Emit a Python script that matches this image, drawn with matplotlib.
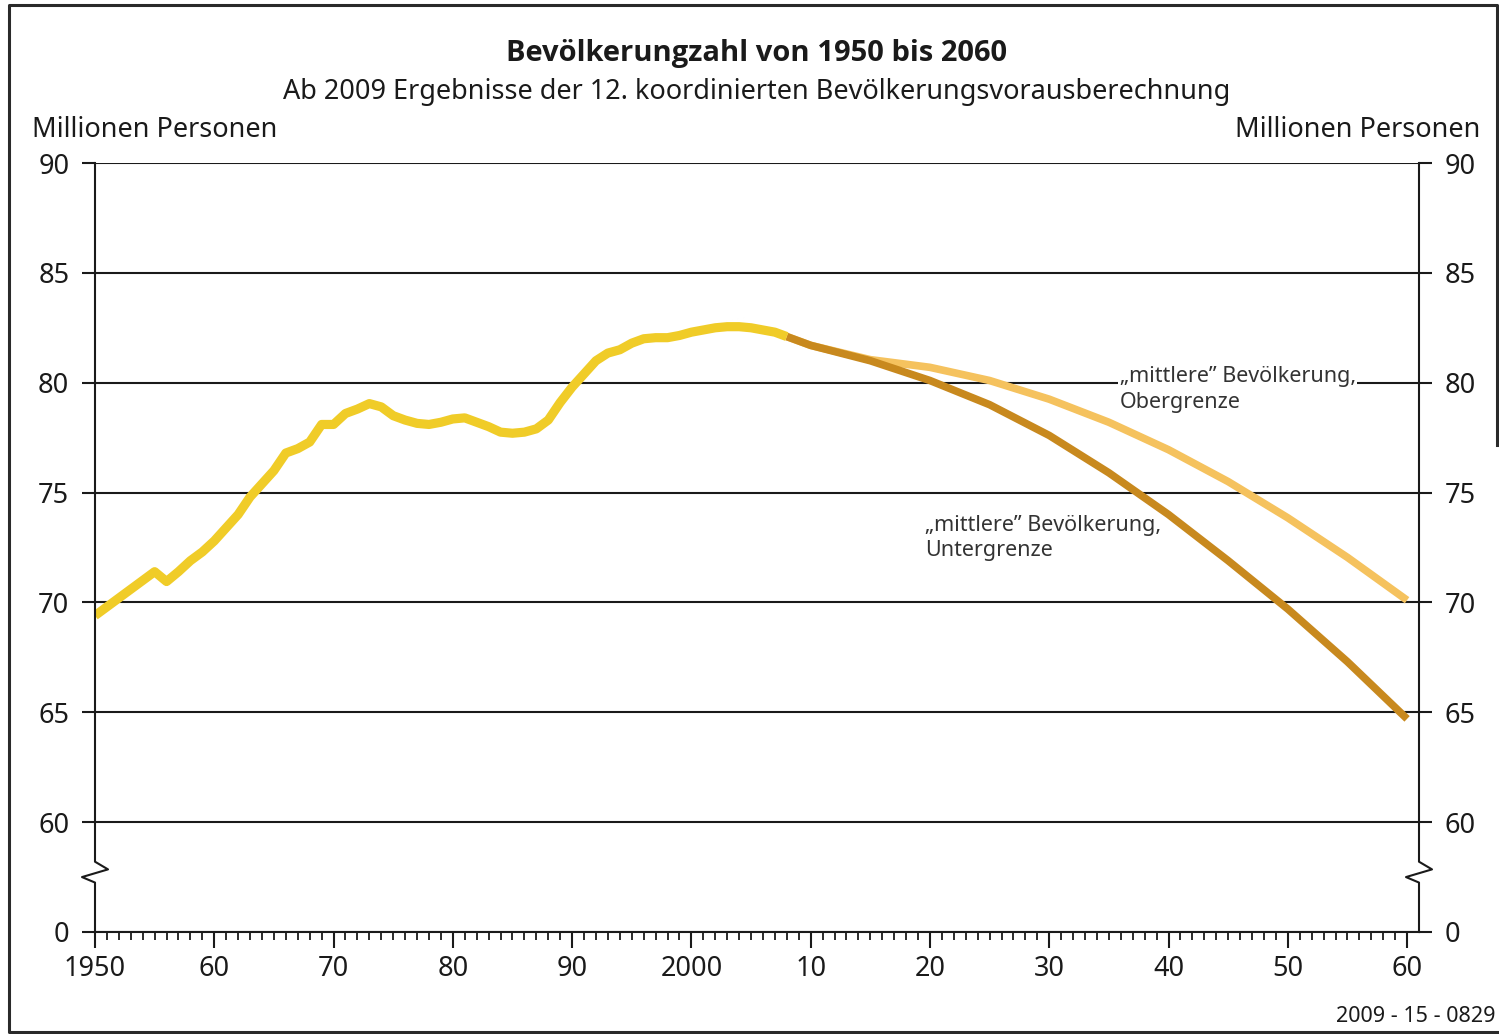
import matplotlib
matplotlib.use("Agg")
import matplotlib.pyplot as plt
from matplotlib.lines import Line2D
import matplotlib.transforms as mtransforms

plt.rcParams['font.family'] = ['Noto Sans', 'DejaVu Sans']

# ---- data (millions) ----
hist_years = list(range(1950, 2009))
hist_pop = [69.4, 69.8, 70.2, 70.6, 71.0, 71.4, 70.95, 71.4, 71.9, 72.3,
            72.8, 73.4, 74.0, 74.8, 75.4, 76.0, 76.8, 77.0, 77.3, 78.1,
            78.1, 78.6, 78.8, 79.05, 78.9, 78.5, 78.3, 78.15, 78.1, 78.2,
            78.35, 78.4, 78.2, 78.0, 77.75, 77.7, 77.75, 77.9, 78.3, 79.1,
            79.8, 80.4, 81.0, 81.35, 81.5, 81.8, 82.0, 82.05, 82.05, 82.15,
            82.3, 82.4, 82.5, 82.55, 82.55, 82.5, 82.4, 82.3, 82.1]

proj_years = [2008, 2010, 2015, 2020, 2025, 2030, 2035, 2040, 2045, 2050, 2055, 2060]
upper_pop = [82.1, 81.7, 81.05, 80.7, 80.1, 79.25, 78.2, 76.95, 75.5, 73.85, 72.05, 70.1]
lower_pop = [82.1, 81.7, 81.0, 80.1, 79.0, 77.6, 75.9, 74.0, 71.9, 69.7, 67.3, 64.7]

y_ticks = [55, 60, 65, 70, 75, 80, 85, 90]      # 55 stands for the broken "0"
y_labels = ['0', '60', '65', '70', '75', '80', '85', '90']
x_ticks = list(range(1950, 2061, 10))
x_labels = ['1950', '60', '70', '80', '90', '2000', '10', '20', '30', '40', '50', '60']

W, H = 1499, 1034
fig = plt.figure(figsize=(W / 100, H / 100), dpi=100)
ax = fig.add_axes([95 / W, 1 - 932 / H, (1419 - 95) / W, (932 - 163) / H])

c_hist = '#F0CC28'
c_low = '#C8891E'
c_up = '#F5C25E'
ink = '#1a1a1a'

ax.plot(proj_years, upper_pop, color=c_up, lw=5.5, solid_capstyle='butt', zorder=3)
ax.plot(proj_years, lower_pop, color=c_low, lw=5.5, solid_capstyle='butt', zorder=4)
ax.plot(hist_years, hist_pop, color=c_hist, lw=6.6, solid_capstyle='butt',
        solid_joinstyle='round', zorder=5)

ax.set_xlim(1950, 2061)
ax.set_ylim(55, 90)

for s in ['top', 'left', 'right']:
    ax.spines[s].set_visible(False)
ax.spines['bottom'].set_linewidth(1.5)
ax.spines['bottom'].set_color(ink)

ax.set_yticks(y_ticks)
ax.set_yticklabels(y_labels)
ax.set_xticks(x_ticks)
ax.set_xticklabels(x_labels)
ax.set_xticks(range(1950, 2061), minor=True)

ax.yaxis.grid(True, color=ink, lw=1.5)
ax.set_axisbelow(True)
ax.tick_params(axis='y', which='both', left=True, right=True, labelleft=True,
               labelright=True, direction='out', length=9.5, width=1.5,
               color=ink, labelsize=19.5, labelcolor=ink, pad=9)
ax.tick_params(axis='x', which='major', direction='out', length=11.5, width=1.5,
               color=ink, labelsize=19.5, labelcolor=ink, pad=5)
ax.tick_params(axis='x', which='minor', direction='out', length=5.5, width=1.3,
               color=ink)

# vertical axis lines with break marks
tr = mtransforms.blended_transform_factory(ax.transAxes, ax.transData)
dx = 13 / (1419 - 95)
for x0 in [0, 1]:
    xs = [x0, x0, x0 + dx, x0 - dx, x0, x0]
    ys = [90, 58.2, 57.85, 57.5, 57.25, 55]
    ax.add_line(Line2D(xs, ys, transform=tr, color=ink, lw=1.5, clip_on=False, zorder=6))

# labels for projection lines
ax.text(2035.9, 80.75, '\u201emittlere\u201d Bevölkerung,\nObergrenze', fontsize=15.5,
        color='#333333', va='top', ha='left', linespacing=1.3, zorder=7,
        bbox=dict(facecolor='white', edgecolor='none', pad=1))
ax.text(2019.6, 74.0, '\u201emittlere\u201d Bevölkerung,\nUntergrenze', fontsize=15.5,
        color='#333333', va='top', ha='left', linespacing=1.3, zorder=7)

# titles
fig.text(757 / W, 1 - 54 / H, 'Bevölkerungzahl von 1950 bis 2060', fontsize=21,
         fontweight='bold', family=['Open Sans', 'Lato', 'DejaVu Sans'],
         ha='center', va='center', color=ink)
fig.text(757 / W, 1 - 92 / H,
         'Ab 2009 Ergebnisse der 12. koordinierten Bevölkerungsvorausberechnung',
         fontsize=19.5, ha='center', va='center', color=ink)
fig.text(32 / W, 1 - 130 / H, 'Millionen Personen', fontsize=19.5, ha='left',
         va='center', color=ink)
fig.text(1480 / W, 1 - 130 / H, 'Millionen Personen', fontsize=19.5, ha='right',
         va='center', color=ink)
fig.text(1495 / W, 1 - 1016 / H, '2009 - 15 - 0829', fontsize=15.5, ha='right',
         va='center', color=ink)

# outer frame
frame = Line2D([1497 / W, 1497 / W, 9 / W, 9 / W, 1497 / W],
               [1 - 445 / H, 1 - 5 / H, 1 - 5 / H, 1 - 1032 / H, 1 - 1032 / H],
               transform=fig.transFigure, color='#2a2a2a', lw=2.2)
fig.add_artist(frame)

fig.savefig('out.png', dpi=100)
